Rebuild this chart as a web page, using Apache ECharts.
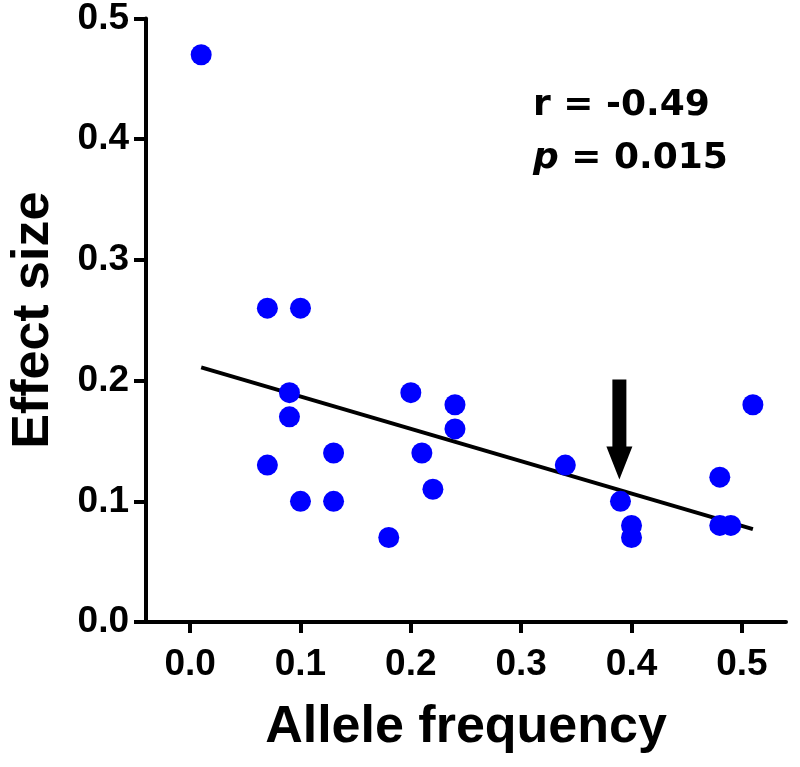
<!DOCTYPE html>
<html><head><meta charset="utf-8">
<script src="https://cdn.jsdelivr.net/npm/echarts@6/dist/echarts.min.js"></script>
<style>html,body{margin:0;padding:0;background:#fff}#c{width:800px;height:767px}</style>
</head><body><div id="c"></div>
<script>
// Data
const alleleFreq = [0.01,0.07,0.10,0.09,0.09,0.07,0.10,0.13,0.13,0.18,0.20,0.21,0.22,0.24,0.24,0.34,0.39,0.40,0.40,0.48,0.48,0.49,0.51];
const effectSize = [0.47,0.26,0.26,0.19,0.17,0.13,0.10,0.14,0.10,0.07,0.19,0.14,0.11,0.18,0.16,0.13,0.10,0.08,0.07,0.12,0.08,0.08,0.18];
const fitX = [0.01, 0.51];
const fitY = [0.211, 0.077];
const arrowX = 0.389;
const arrowFrom = 0.201;
const arrowTo = 0.118;
const xTicks = [0, 0.1, 0.2, 0.3, 0.4, 0.5];
const yTicks = [0, 0.1, 0.2, 0.3, 0.4, 0.5];
const xTitle = 'Allele frequency';
const yTitle = 'Effect size';
const statR = 'r = -0.49';
const statP = '0.015';

const numFont = '"DejaVu Sans"';
const tickFont = '"Liberation Sans", Arial, sans-serif';
const titleFont = '"Liberation Sans", Arial, sans-serif';

const chart = echarts.init(document.getElementById('c'), null, {renderer: 'canvas'});
chart.setOption({
  animation: false,
  backgroundColor: '#ffffff',
  grid: {left: 144, right: 14, top: 18, bottom: 145, containLabel: false},
  xAxis: {
    type: 'value', min: -0.04, max: 0.54,
    name: xTitle, nameLocation: 'middle', nameGap: 80,
    nameTextStyle: {fontFamily: titleFont, fontWeight: 'bold', fontSize: 52, color: '#000'},
    axisLine: {show: true, onZero: false, lineStyle: {color: '#000', width: 4}},
    axisTick: {show: true, length: 11, lineStyle: {color: '#000', width: 4}, customValues: xTicks},
    axisLabel: {margin: 24, fontFamily: tickFont, fontWeight: 'bold', fontSize: 37, color: '#000',
      customValues: xTicks, formatter: v => v.toFixed(1)},
    splitLine: {show: false}
  },
  yAxis: {
    type: 'value', min: 0, max: 0.5, interval: 0.1,
    name: yTitle, nameLocation: 'middle', nameGap: 86, nameRotate: 90,
    nameTextStyle: {fontFamily: titleFont, fontWeight: 'bold', fontSize: 52, color: '#000'},
    axisLine: {show: true, onZero: false, lineStyle: {color: '#000', width: 4}},
    axisTick: {show: true, length: 12, lineStyle: {color: '#000', width: 4}, customValues: yTicks},
    axisLabel: {margin: 17, fontFamily: tickFont, fontWeight: 'bold', fontSize: 37, color: '#000',
      customValues: yTicks, formatter: v => v.toFixed(1)},
    splitLine: {show: false}
  },
  series: [
    {
      type: 'line', data: fitX.map((x, i) => [x, fitY[i]]), showSymbol: false, symbol: 'none',
      lineStyle: {color: '#000', width: 4}, z: 2, silent: true
    },
    {
      type: 'custom', z: 3, silent: true,
      data: [[arrowX, arrowFrom, arrowTo]],
      encode: {x: 0, y: [1, 2]},
      renderItem: function (params, api) {
        const top = api.coord([api.value(0), api.value(1)]);
        const tip = api.coord([api.value(0), api.value(2)]);
        const headH = 33, headW = 26, shaftW = 14;
        return {type: 'group', children: [
          {type: 'rect', shape: {x: top[0] - shaftW / 2, y: top[1], width: shaftW, height: tip[1] - headH - top[1] + 1}, style: {fill: '#000'}},
          {type: 'polygon', shape: {points: [[tip[0] - headW / 2, tip[1] - headH], [tip[0] + headW / 2, tip[1] - headH], [tip[0], tip[1]]]}, style: {fill: '#000'}}
        ]};
      }
    },
    {
      type: 'scatter', data: alleleFreq.map((x, i) => [x, effectSize[i]]),
      symbol: 'circle', symbolSize: 21, itemStyle: {color: '#0000ff', opacity: 1}, z: 4
    }
  ],
  graphic: [
    {type: 'text', left: 533, top: 88, z: 10,
      style: {text: statR, fontFamily: numFont, fontWeight: 'bold', fontSize: 36, fill: '#000'}},
    {type: 'text', left: 533, top: 141, z: 10,
      style: {text: '{i|p} = ' + statP, fontFamily: numFont, fontWeight: 'bold', fontSize: 36, fill: '#000',
        rich: {i: {fontFamily: numFont, fontWeight: 'bold', fontStyle: 'italic', fontSize: 36, fill: '#000'}}}}
  ]
});
</script>
</body></html>
